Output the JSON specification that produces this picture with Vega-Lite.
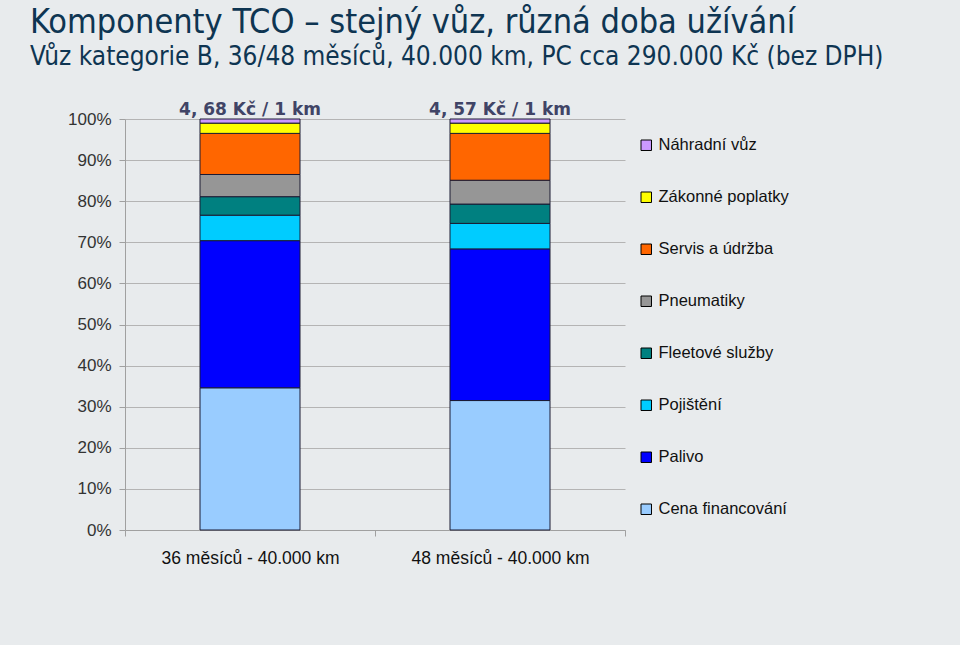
{
  "$schema": "https://vega.github.io/schema/vega-lite/v6.json",
  "width": 500,
  "height": 411,
  "autosize": "none",
  "padding": {"left": 125, "top": 119, "right": 335, "bottom": 115},
  "background": "#E8EBED",
  "title": {
    "text": "Komponenty TCO – stejný vůz, různá doba užívání",
    "subtitle": "Vůz kategorie B, 36/48 měsíců, 40.000 km, PC cca 290.000 Kč (bez DPH)",
    "anchor": "start",
    "frame": "group",
    "dx": -95,
    "offset": 31,
    "font": "Liberation Sans Narrow, DejaVu Sans Condensed, sans-serif",
    "fontSize": 34,
    "fontWeight": "normal",
    "color": "#0E3552",
    "subtitleFont": "Liberation Sans Narrow, DejaVu Sans Condensed, sans-serif",
    "subtitleFontSize": 26,
    "subtitleColor": "#0E3552",
    "subtitlePadding": 4
  },
  "config": {
    "view": {"stroke": null},
    "axis": {"labelFont": "Liberation Sans", "domainColor": "#A0A0A0", "tickColor": "#A0A0A0", "gridColor": "#B4B4B4"}
  },
  "datasets": {
    "costs": [
      {"obdobi": "36 měsíců - 40.000 km", "slozka": "Cena financování", "poradi": 1, "podil": 34.6},
      {"obdobi": "36 měsíců - 40.000 km", "slozka": "Palivo", "poradi": 2, "podil": 35.8},
      {"obdobi": "36 měsíců - 40.000 km", "slozka": "Pojištění", "poradi": 3, "podil": 6.2},
      {"obdobi": "36 měsíců - 40.000 km", "slozka": "Fleetové služby", "poradi": 4, "podil": 4.5},
      {"obdobi": "36 měsíců - 40.000 km", "slozka": "Pneumatiky", "poradi": 5, "podil": 5.4},
      {"obdobi": "36 měsíců - 40.000 km", "slozka": "Servis a údržba", "poradi": 6, "podil": 10.0},
      {"obdobi": "36 měsíců - 40.000 km", "slozka": "Zákonné poplatky", "poradi": 7, "podil": 2.5},
      {"obdobi": "36 měsíců - 40.000 km", "slozka": "Náhradní vůz", "poradi": 8, "podil": 1.0},
      {"obdobi": "48 měsíců - 40.000 km", "slozka": "Cena financování", "poradi": 1, "podil": 31.5},
      {"obdobi": "48 měsíců - 40.000 km", "slozka": "Palivo", "poradi": 2, "podil": 36.9},
      {"obdobi": "48 měsíců - 40.000 km", "slozka": "Pojištění", "poradi": 3, "podil": 6.2},
      {"obdobi": "48 měsíců - 40.000 km", "slozka": "Fleetové služby", "poradi": 4, "podil": 4.7},
      {"obdobi": "48 měsíců - 40.000 km", "slozka": "Pneumatiky", "poradi": 5, "podil": 5.8},
      {"obdobi": "48 měsíců - 40.000 km", "slozka": "Servis a údržba", "poradi": 6, "podil": 11.4},
      {"obdobi": "48 měsíců - 40.000 km", "slozka": "Zákonné poplatky", "poradi": 7, "podil": 2.5},
      {"obdobi": "48 měsíců - 40.000 km", "slozka": "Náhradní vůz", "poradi": 8, "podil": 1.0}
    ],
    "labels": [
      {"obdobi": "36 měsíců - 40.000 km", "text": "4, 68 Kč / 1 km", "vrchol": 100},
      {"obdobi": "48 měsíců - 40.000 km", "text": "4, 57 Kč / 1 km", "vrchol": 100}
    ]
  },
  "layer": [
    {
      "data": {"name": "costs"},
      "mark": {"type": "bar", "size": 100, "stroke": "#1A1A33", "strokeWidth": 1},
      "encoding": {
        "x": {
          "field": "obdobi", "type": "nominal", "sort": null,
          "scale": {"paddingInner": 0, "paddingOuter": 0},
          "axis": {"title": null, "labelAngle": 0, "labelFontSize": 17.5, "labelColor": "#111111", "tickBand": "extent", "tickSize": 6, "labelPadding": 13, "grid": false}
        },
        "y": {
          "field": "podil", "type": "quantitative", "stack": "zero",
          "scale": {"domain": [0, 100], "nice": false},
          "axis": {"title": null, "values": [0,10,20,30,40,50,60,70,80,90,100], "labelExpr": "datum.value + '%'", "labelFontSize": 17, "labelColor": "#333333", "tickSize": 6, "labelPadding": 8, "grid": true}
        },
        "order": {"field": "poradi", "type": "quantitative"},
        "color": {
          "field": "slozka", "type": "nominal",
          "scale": {
            "domain": ["Náhradní vůz", "Zákonné poplatky", "Servis a údržba", "Pneumatiky", "Fleetové služby", "Pojištění", "Palivo", "Cena financování"],
            "range": ["#CC99FF", "#FFFF00", "#FF6600", "#969696", "#008080", "#00CCFF", "#0000FF", "#99CCFF"]
          },
          "legend": {
            "title": null, "orient": "none", "legendX": 513, "legendY": 18,
            "symbolType": "square", "symbolSize": 110, "symbolStrokeColor": "#000000", "symbolStrokeWidth": 1,
            "labelFont": "Liberation Sans", "labelFontSize": 16.5, "labelColor": "#111111", "rowPadding": 35, "labelOffset": 4
          }
        }
      }
    },
    {
      "data": {"name": "labels"},
      "mark": {"type": "text", "font": "DejaVu Sans", "fontWeight": "bold", "fontSize": 17, "color": "#404466", "baseline": "alphabetic", "dy": -4},
      "encoding": {
        "x": {"field": "obdobi", "type": "nominal", "sort": null},
        "y": {"field": "vrchol", "type": "quantitative"},
        "text": {"field": "text"}
      }
    }
  ]
}
